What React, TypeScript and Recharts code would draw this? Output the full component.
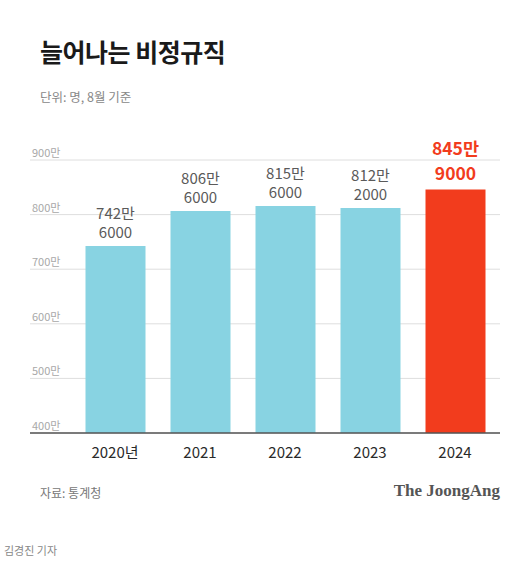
import React from 'react';
import { BarChart, Bar, XAxis, YAxis, CartesianGrid, Cell, LabelList } from 'recharts';

const years = ['2020년', '2021', '2022', '2023', '2024'];
const workers = [7426000, 8066000, 8156000, 8122000, 8459000];
const yTicks = [400, 500, 600, 700, 800, 900];

const FONT = '"Noto Sans CJK KR", "Noto Sans", sans-serif';
const BLUE = '#88d3e2';
const RED = '#f23c1d';

const data = years.map((year, i) => ({
  year,
  value: workers[i] / 10000,
  top: `${Math.floor(workers[i] / 10000)}만`,
  bottom: `${workers[i] % 10000}`,
}));

const BarLabel = (props: any) => {
  const { x, y, width, index } = props;
  const d = data[index];
  const last = index === data.length - 1;
  const cx = x + width / 2;
  const size = last ? 17.5 : 15;
  return (
    <g>
      <text
        x={cx}
        y={y - (last ? 35 : 27)}
        textAnchor="middle"
        fontFamily={FONT}
        fontSize={size}
        fontWeight={last ? 700 : 400}
        fill={last ? RED : '#5a5a5a'}
      >
        {d.top}
      </text>
      <text
        x={cx}
        y={y - (last ? 10 : 8)}
        textAnchor="middle"
        fontFamily={FONT}
        fontSize={size}
        fontWeight={last ? 700 : 400}
        fill={last ? RED : '#5a5a5a'}
      >
        {d.bottom}
      </text>
    </g>
  );
};

const renderYTick = (props: any) => {
  const { y, payload } = props;
  return (
    <text x={32} y={y - 3} fontFamily={FONT} fontSize={11} fill="#a8a8a8">
      {payload.value}만
    </text>
  );
};

export default function App() {
  return (
    <div style={{ position: 'absolute', top: 0, left: 0, width: 506, height: 567, background: '#fff', fontFamily: FONT }}>
      <div style={{ position: 'absolute', left: 40, top: 33, fontSize: 25, fontWeight: 700, color: '#1a1a1a', letterSpacing: -0.5 }}>
        늘어나는 비정규직
      </div>
      <div style={{ position: 'absolute', left: 40, top: 87, fontSize: 12.5, color: '#888' }}>
        단위: 명, 8월 기준
      </div>
      <BarChart
        width={506}
        height={567}
        data={data}
        margin={{ top: 160, right: 6, bottom: 104, left: 0 }}
        barSize={60}
      >
        <CartesianGrid horizontal vertical={false} stroke="#dedede" />
        <YAxis
          domain={[400, 900]}
          ticks={yTicks}
          width={30}
          axisLine={false}
          tickLine={false}
          tick={renderYTick}
          allowDataOverflow
        />
        <XAxis
          dataKey="year"
          height={30}
          padding={{ left: 42.5, right: 2.5 }}
          axisLine={{ stroke: '#555', strokeWidth: 1.5 }}
          tickLine={false}
          tick={{ fontFamily: FONT, fontSize: 15, fill: '#2a2a2a' }}
          dy={6}
        />
        <Bar dataKey="value" isAnimationActive={false}>
          {data.map((d, i) => (
            <Cell key={d.year} fill={i === data.length - 1 ? RED : BLUE} />
          ))}
          <LabelList dataKey="value" content={<BarLabel />} />
        </Bar>
      </BarChart>
      <div style={{ position: 'absolute', left: 40, top: 484, fontSize: 12, color: '#777' }}>자료: 통계청</div>
      <div style={{ position: 'absolute', right: 6, top: 481, fontSize: 17, fontWeight: 700, color: '#555', fontFamily: '"Liberation Serif", "DejaVu Serif", serif' }}>
        The JoongAng
      </div>
      <div style={{ position: 'absolute', left: 4, top: 542, fontSize: 11, color: '#888' }}>김경진 기자</div>
    </div>
  );
}
